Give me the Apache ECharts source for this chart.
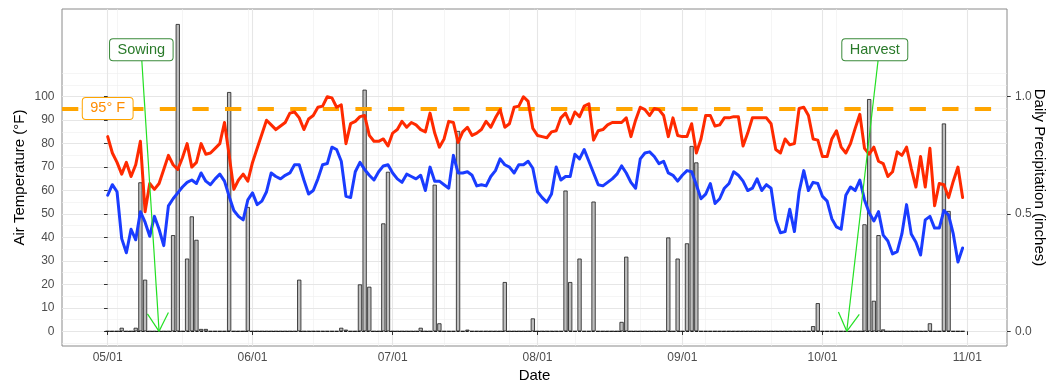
<!DOCTYPE html>
<html><head><meta charset="utf-8">
<script src="https://cdn.jsdelivr.net/npm/echarts@6/dist/echarts.min.js"></script>
<style>html,body{margin:0;padding:0;background:#fff}#c{width:1048px;height:385px}</style>
</head><body><div id="c"></div>
<script>
// ---- data (day index 0 = 05/01) ----
const tmax = [
83,76,72,67,72,66,71,81,51,63,
60.5,63,69,75,71,69,74,80,70,72,
80,75.5,76,78,80,89,75,60.5,64.5,67,
64,72,78,84,90,88,86,87.5,89,93,
93.5,91,86,90.5,92,95.5,96,100,99.5,95.5,
96.5,80,88.5,89.5,91.5,92,83.5,81,81,82,
79,84.5,86,89.5,87,89,88,86,85,93,
84.5,78.5,82,89.5,89,80.5,85,87,83.5,84.5,
86,89.5,87,91,94.5,87,88.5,95.5,96,100,
98,86.5,83.5,83,82.5,85,85.5,91,93,88.5,
93.5,91.5,96,97,81.5,85.5,86,88,89,89,
89,91,83,90,95.5,94.5,92,95,94.5,92,
83,91,83.5,83,83,88.5,76,82,92,92,
87.5,88,91,91,91.5,91.5,79,84.5,91,91,
91,91,88.5,77.5,76,82,79.5,80,95,95.5,
92,82,81.5,74.5,74.5,82,85.5,78.5,76,80,
86.5,92.5,78,75.5,78.5,72.5,71.5,66,68,76.5,
75,78.5,69.5,61.5,74.5,61.5,78,53.5,63,62.5,
57,64,70,57];
const tmin = [
58,62.5,59.5,39.5,33.5,43.5,39,51,46.5,40.5,
49,43.5,36.5,53.5,56.5,59,61.5,63.5,64.5,63,
67.5,64,62.5,65,67,64,57.5,51.5,49,47.5,
56,59,54,55.5,59.5,67.5,66,65,66.5,67.5,
71,71,64.5,58.5,60,65,71,71.5,78.5,77.5,
72.5,57.5,57,68,72,69,66.5,64.5,68,70.5,
71,67.5,65,63.5,67,66,65,66.5,60,70,
64,64,62.5,61,75,67.5,67.5,68,66.5,62,
62.5,62,66,68.5,73.5,71,70,67.5,71,71,
72.5,69.5,59.5,57,55,58.5,70,64.5,66,66,
75.5,73.5,77.5,72.5,67.5,62.5,62,63.5,65,67,
70.5,67.5,63.5,61,73.5,76,76.5,74.5,71.5,72.5,
67.5,66.5,64,66.5,68.5,68,62.5,56.5,58.5,63,
54.5,56.5,61,63,68,66.5,64,60,61,65,
60,62.5,61,47.5,42,42.5,52,42.5,59.5,68.5,
60,63.5,63,57.5,55.5,48,44.5,43.5,58,61.5,
60,64.5,56,50.5,47,51,41,38.5,33,34,
41.5,54,41.5,38,32.5,47.5,49,44,44,51.5,
49.5,41.5,29.5,35.5];
// days with rain and amount (inches); all other days are 0
const rainDays   = [3,6,7,8,14,15,17,18,19,20,21,26,30,41,50,51,54,55,56,59,60,67,70,71,75,77,85,91,98,99,101,104,110,111,120,122,124,125,126,151,152,162,163,164,165,166,176,179,180];
const rainInches = [0.015,0.015,0.635,0.22,0.41,1.31,0.31,0.49,0.39,0.01,0.01,1.02,0.53,0.22,0.015,0.007,0.20,1.03,0.19,0.46,0.68,0.015,0.625,0.034,0.854,0.007,0.21,0.055,0.60,0.21,0.31,0.553,0.04,0.318,0.40,0.31,0.375,0.79,0.72,0.022,0.12,0.456,0.99,0.13,0.41,0.008,0.034,0.886,0.513];

const xTickDays   = [0,31,61,92,123,153,184];
const xTickLabels = ['05/01','06/01','07/01','08/01','09/01','10/01','11/01'];
const xMinorDays  = [2,16,30,44,58,72,86,100,114,128,142,156,170];
const yTickTemps  = [0,10,20,30,40,50,60,70,80,90,100];
const yMinorTemps = [-5,5,15,25,35,45,55,65,75,85,95,105,110];
const yTickPrecip = [0,0.5,1.0];

const thresholdTemp  = 95;
const thresholdLabel = '95° F';
const thresholdLabelDay = 0;

const annoText      = ['Sowing','Harvest'];
const annoLabelDay  = [7.2,164.2];
const annoLabelTemp = [120,120];
const annoArrowDay  = [7.3,164.9];
const annoTipDay    = [11,158.2];

// ---- build ----
const days = tmax.map((_, i) => i);
const precip = days.map(d => { const k = rainDays.indexOf(d); return k >= 0 ? rainInches[k] : 0; });
const FONT = 'Liberation Sans, Arial, sans-serif';

const chart = echarts.init(document.getElementById('c'), null, {renderer: 'canvas'});
const tickStyle = {show: true, length: 3.7, lineStyle: {color: '#333333', width: 1}};
const labelStyle = {color: '#4D4D4D', fontSize: 12, fontFamily: FONT};
const gridLine = (data, color, width) => ({type: 'line', data: [], z: 0, silent: true,
  markLine: {z: 0, silent: true, symbol: 'none', label: {show: false}, animation: false,
    lineStyle: {color: color, width: width, type: 'solid'}, data: data}});

chart.setOption({
  animation: false,
  backgroundColor: '#ffffff',
  grid: {left: 62, right: 41, top: 9, bottom: 39, containLabel: false, outerBoundsMode: 'none',
    show: true, borderColor: '#8a8a8a', borderWidth: 1, backgroundColor: 'transparent'},
  xAxis: {
    type: 'value', min: -9.78, max: 192.5,
    name: 'Date', nameLocation: 'middle', nameGap: 22, nameMoveOverlap: false,
    nameTextStyle: {color: '#000', fontSize: 15, fontFamily: FONT},
    axisLine: {show: false},
    axisTick: Object.assign({customValues: xTickDays}, tickStyle),
    axisLabel: Object.assign({customValues: xTickDays, margin: 6,
      formatter: v => { const k = xTickDays.indexOf(v); return k >= 0 ? xTickLabels[k] : ''; }}, labelStyle),
    splitLine: {show: false}
  },
  yAxis: [{
    type: 'value', min: -6.27, max: 137.4, position: 'left',
    name: 'Air Temperature (°F)', nameLocation: 'middle', nameGap: 35, nameMoveOverlap: false,
    nameTextStyle: {color: '#000', fontSize: 15, fontFamily: FONT},
    axisLine: {show: false},
    axisTick: Object.assign({customValues: yTickTemps}, tickStyle),
    axisLabel: Object.assign({customValues: yTickTemps, margin: 7.5}, labelStyle),
    splitLine: {show: false}
  }, {
    type: 'value', min: -0.0627, max: 1.374, position: 'right',
    name: 'Daily Precipitation (inches)', nameLocation: 'middle', nameGap: 25, nameRotate: -90, nameMoveOverlap: false,
    nameTextStyle: {color: '#000', fontSize: 15, fontFamily: FONT},
    axisLine: {show: false},
    axisTick: Object.assign({customValues: yTickPrecip}, tickStyle),
    axisLabel: Object.assign({customValues: yTickPrecip, margin: 8, formatter: v => v.toFixed(1)}, labelStyle),
    splitLine: {show: false}
  }],
  series: [
    gridLine(xMinorDays.map(d => ({xAxis: d})).concat(yMinorTemps.map(v => ({yAxis: v}))), '#EFEFEF', 0.6),
    gridLine(xTickDays.map(d => ({xAxis: d})).concat(yTickTemps.map(v => ({yAxis: v}))), '#E6E6E6', 1.1),
    {type: 'bar', name: 'Precipitation', yAxisIndex: 1, z: 2, barWidth: 4.2,
     data: days.map(d => [d, precip[d]]),
     itemStyle: {color: '#BEBEBE', borderColor: '#1a1a1a', borderWidth: 0.8}},
    {type: 'line', data: [], z: 2, silent: true,
     markLine: {z: 2, silent: true, symbol: 'none', label: {show: false}, animation: false,
       lineStyle: {color: '#1a1a1a', width: 1, type: [3, 1.5]},
       data: [[{coord: [days[0] - 0.45, 0]}, {coord: [days[days.length - 1] + 0.45, 0]}]]}},
    {type: 'line', data: [], z: 3, silent: true,
     markLine: {z: 3, silent: true, symbol: 'none', label: {show: false}, animation: false,
       lineStyle: {color: '#FFA500', width: 4, type: [16.3, 16.3], cap: 'butt'},
       data: [{yAxis: thresholdTemp}]}},
    {type: 'line', name: 'Max', z: 4, data: days.map(d => [d, tmax[d]]), symbol: 'none', showSymbol: false,
     sampling: 'none', lineStyle: {color: '#FF2A00', width: 3, join: 'round', cap: 'round', type: 'solid'}},
    {type: 'line', name: 'Min', z: 4, data: days.map(d => [d, tmin[d]]), symbol: 'none', showSymbol: false,
     sampling: 'none', lineStyle: {color: '#1A3CFF', width: 3, join: 'round', cap: 'round', type: 'solid'}},
    {type: 'custom', z: 6, silent: true, clip: false,
     data: [[thresholdLabelDay, thresholdTemp]],
     renderItem: (params, api) => {
       const p = api.coord([api.value(0), api.value(1)]);
       return {type: 'text', x: p[0], y: p[1], style: {text: thresholdLabel, fill: '#FF8C00',
         fontSize: 14.5, fontFamily: FONT, align: 'center', verticalAlign: 'middle',
         backgroundColor: '#ffffff', borderColor: '#FFA500', borderWidth: 1, borderRadius: 3, padding: [3.5, 7.5, 2.5, 7.5]}};
     }},
    {type: 'custom', z: 7, silent: true, clip: false,
     data: annoText.map((_, i) => [annoLabelDay[i], annoLabelTemp[i], annoArrowDay[i], annoTipDay[i]]),
     renderItem: (params, api) => {
       const i = params.dataIndex;
       const lab = api.coord([api.value(0), api.value(1)]);
       const st = api.coord([api.value(2), api.value(1)]);
       const tip = api.coord([api.value(3), 0]);
       const sx = st[0], sy = lab[1] + 10.7;
       const ang = Math.atan2(sy - tip[1], sx - tip[0]);
       const L = 21, a = Math.PI / 6;
       const w1 = [tip[0] + L * Math.cos(ang + a), tip[1] + L * Math.sin(ang + a)];
       const w2 = [tip[0] + L * Math.cos(ang - a), tip[1] + L * Math.sin(ang - a)];
       const ls = {stroke: '#22E022', lineWidth: 1.2};
       return {type: 'group', children: [
         {type: 'line', shape: {x1: sx, y1: sy, x2: tip[0], y2: tip[1]}, style: ls},
         {type: 'line', shape: {x1: w1[0], y1: w1[1], x2: tip[0], y2: tip[1]}, style: ls},
         {type: 'line', shape: {x1: w2[0], y1: w2[1], x2: tip[0], y2: tip[1]}, style: ls},
         {type: 'text', x: lab[0], y: lab[1], style: {text: annoText[i], fill: '#2A7A2A',
           fontSize: 14.5, fontFamily: FONT, align: 'center', verticalAlign: 'middle',
           backgroundColor: '#ffffff', borderColor: '#3A8A3A', borderWidth: 1, borderRadius: 3, padding: [3.5, 7.5, 2.5, 7.5]}}
       ]};
     }}
  ]
});
</script></body></html>
